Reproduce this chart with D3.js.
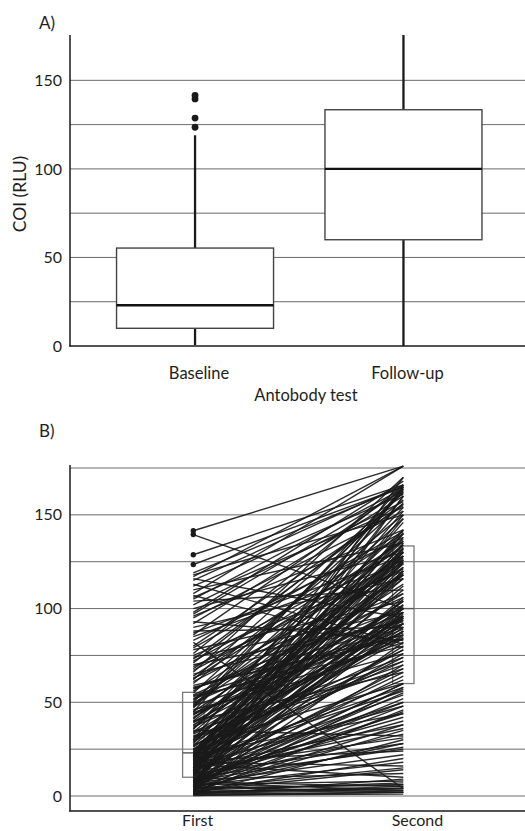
<!DOCTYPE html>
<html>
<head>
<meta charset="utf-8">
<script src="https://cdn.jsdelivr.net/npm/d3@7"></script>
<style>
  html, body { margin: 0; padding: 0; background: #fff; }
  svg { display: block; font-family: Lato, "Open Sans", sans-serif; }
</style>
</head>
<body>
<svg id="chart" width="525" height="831"></svg>
<script>
// ---------- DATA ----------
const groups = ["Baseline", "Follow-up"];
const pairLabels = ["First", "Second"];
const yTickValues = [0, 50, 100, 150];
const gridA = [25, 50, 75, 100, 125, 150];
const gridB = [0, 25, 50, 75, 100, 125, 150, 175];

// box-plot summaries: [min, q1, median, q3, max]
const baselineStats = [0.5, 10, 23, 55.3, 119];
const followupStats = [0, 60, 100, 133.4, 175.6];
const baselineOutliers = [123.5, 128.7, 139.5, 141.5];
const followupOutliers = [];

// paired values (panel B), first and second measurement per subject
const firstValues = [
  0.5, 1, 1, 1.5, 2, 2, 2.5, 3, 3, 3.5,
  4, 4, 4.5, 5, 5, 5.5, 6, 6, 6.5, 7,
  7, 7.5, 8, 8, 8.5, 9, 9, 9.5, 10, 0.8,
  1.2, 1.8, 2.2, 2.8, 3.2, 3.8, 4.2, 4.8, 5.2, 5.8,
  6.2, 6.8, 7.2, 7.8, 8.2, 8.8, 9.2, 9.8, 0.3, 1.4,
  2.6, 3.6, 4.6, 5.6, 6.6, 7.6,
  10.5, 11, 11.5, 12, 12, 12.5, 13, 13, 13.5, 14,
  14, 14.5, 15, 15, 15.5, 16, 16, 16.5, 17, 17,
  17.5, 18, 18, 18.5, 19, 19, 19.5, 20, 20, 20.5,
  21, 21, 21.5, 22, 22, 22.5, 23, 10.8, 11.8, 12.8,
  13.8, 14.8, 15.8, 16.8, 17.8, 18.8, 19.8, 20.8, 21.8, 22.8,
  11.2, 13.2, 15.2, 17.2, 19.2, 21.2, 23,
  23.5, 24, 25, 25, 26, 27, 27.5, 28, 29, 30,
  30, 31, 32, 33, 33.5, 34, 35, 36, 36, 37,
  38, 39, 40, 40, 41, 42, 43, 44, 45, 45,
  46, 47, 48, 49, 50, 50, 51, 52, 53, 54,
  55, 24.5, 26.5, 28.5, 31.5, 34.5, 37.5, 41.5, 44.5, 47.5,
  51.5, 53.5, 29.5, 35.5, 39.5, 43.5, 48.5,
  56, 57, 58, 59, 60, 61, 62, 63, 64, 65,
  66, 67, 68, 70, 71, 72, 74, 75, 76, 78,
  80, 82, 83, 85, 86, 88, 90, 92, 93, 95,
  96, 98, 100, 102, 104, 105, 107, 108, 110, 112,
  113, 115, 116, 117, 118, 119, 57.5, 62.5, 69, 73,
  79, 87, 97, 106, 123.5, 128.7, 139.5, 141.5
];
const secondValues = [
  1, 2, 30, 3, 5, 20, 4, 38, 7, 45,
  6, 70, 28, 2, 95, 18, 130, 8, 55, 50,
  3, 140, 26, 102, 33, 12, 120, 44, 150, 9,
  58, 4, 92, 35, 82, 15, 6, 160, 48, 98,
  57, 22, 125, 60, 105, 40, 64, 25, 2, 46,
  14, 100, 135, 52, 60, 5,
  42, 118, 28, 90, 142, 36, 76, 50, 132, 54,
  160, 96, 31, 124, 38, 112, 88, 48, 100, 62,
  138, 94, 16, 128, 24, 165, 104, 58, 146, 88,
  120, 72, 134, 98, 44, 84, 152, 80, 126, 66,
  106, 170, 92, 10, 78, 74, 116, 164, 86, 130,
  68, 148, 97, 122, 56, 140, 110,
  96, 132, 78, 92, 104, 120, 60, 140, 88, 126,
  165, 68, 72, 85, 100, 128, 32, 136, 116, 84,
  96, 102, 124, 66, 142, 108, 130, 92, 166, 118,
  76, 148, 87, 134, 98, 162, 122, 86, 80, 106,
  156, 118, 95, 131, 70, 74, 127, 113, 82, 163,
  137, 90, 119, 154, 101, 89, 125,
  128, 100, 86, 84, 150, 118, 162, 108, 136, 94,
  170, 126, 140, 93, 158, 132, 98, 120, 166, 104,
  155, 4, 138, 124, 164, 90, 116, 160, 83, 152,
  142, 168, 130, 157, 110, 164, 79, 176, 135, 161,
  81, 166, 95, 176, 150, 165, 92, 133, 121, 156,
  141, 128, 163, 154, 165, 166, 100, 176
];

// ---------- DRAW ----------
const svg = d3.select("#chart");
const W = 525;
const gridColor = "#6a6a6a";
const fontSize = 16.5;
const tickFont = 16;
const textColor = "#1e1e1e";

// ===== Panel A =====
const yA = d3.scaleLinear().domain([0, 175.6]).range([346, 35]);
const xA = d3.scalePoint().domain(groups).range([70, 528.5]).padding(0.6);
const boxW = 157;

const gA = svg.append("g");
gA.append("text").attr("x", 39).attr("y", 29).attr("font-size", 17).attr("fill", textColor).text("A)");

gA.selectAll("line.grid").data(gridA).join("line")
  .attr("x1", 70).attr("x2", W).attr("y1", d => yA(d)).attr("y2", d => yA(d))
  .attr("stroke", gridColor).attr("stroke-width", 1);

const statsA = [
  { g: groups[0], s: baselineStats, o: baselineOutliers },
  { g: groups[1], s: followupStats, o: followupOutliers }
];
statsA.forEach(b => {
  const cx = xA(b.g);
  const [mn, q1, md, q3, mx] = b.s;
  gA.append("line").attr("x1", cx).attr("x2", cx).attr("y1", yA(q3)).attr("y2", yA(mx))
    .attr("stroke", "#1a1a1a").attr("stroke-width", 2.3);
  gA.append("line").attr("x1", cx).attr("x2", cx).attr("y1", yA(q1)).attr("y2", yA(mn))
    .attr("stroke", "#1a1a1a").attr("stroke-width", 2.3);
  gA.append("rect").attr("x", cx - boxW / 2).attr("width", boxW)
    .attr("y", yA(q3)).attr("height", yA(q1) - yA(q3))
    .attr("fill", "#fff").attr("stroke", "#444").attr("stroke-width", 1.4);
  gA.append("line").attr("x1", cx - boxW / 2).attr("x2", cx + boxW / 2)
    .attr("y1", yA(md)).attr("y2", yA(md)).attr("stroke", "#111").attr("stroke-width", 2.4);
  gA.selectAll(null).data(b.o).join("circle")
    .attr("cx", cx).attr("cy", d => yA(d)).attr("r", 3.4).attr("fill", "#1a1a1a");
});

// axes A
const axA = gA.append("g").attr("transform", "translate(70,0)")
  .call(d3.axisLeft(yA).tickValues(yTickValues).tickSize(0).tickPadding(8).tickFormat(d3.format("d")));
axA.select(".domain").remove();
axA.selectAll("text").attr("font-size", tickFont).attr("fill", textColor).attr("font-family", "Lato, sans-serif");
gA.append("line").attr("x1", 70).attr("x2", 70).attr("y1", 35).attr("y2", 346.5).attr("stroke", "#1a1a1a").attr("stroke-width", 1.5);
gA.append("line").attr("x1", 69.3).attr("x2", W).attr("y1", 346).attr("y2", 346).attr("stroke", "#1a1a1a").attr("stroke-width", 1.5);

gA.selectAll("text.xl").data(groups).join("text")
  .attr("x", d => xA(d) + 4).attr("y", 379).attr("text-anchor", "middle")
  .attr("font-size", fontSize).attr("fill", textColor).text(d => d);
gA.append("text").attr("x", 306).attr("y", 401).attr("text-anchor", "middle")
  .attr("font-size", fontSize).attr("fill", textColor).text("Antobody test");
gA.append("text").attr("transform", "translate(26,194) rotate(-90)").attr("text-anchor", "middle")
  .attr("font-size", 17.5).attr("fill", textColor).text("COI (RLU)");

// ===== Panel B =====
const yB = d3.scaleLinear().domain([0, 175]).range([796, 468]);
const xLines = d3.scalePoint().domain(pairLabels).range([193.3, 403.3]);
const xLab = d3.scalePoint().domain(pairLabels).range([70, 545]).padding(0.58);
const gB = svg.append("g");
gB.append("text").attr("x", 39).attr("y", 437).attr("font-size", 17).attr("fill", textColor).text("B)");

gB.selectAll("line.grid").data(gridB).join("line")
  .attr("x1", 70).attr("x2", W).attr("y1", d => yB(d)).attr("y2", d => yB(d))
  .attr("stroke", gridColor).attr("stroke-width", 1);

// small boxes behind the lines
const boxBW = 21.4;
[[pairLabels[0], baselineStats], [pairLabels[1], followupStats]].forEach(([k, s]) => {
  const cx = xLines(k);
  gB.append("rect").attr("x", cx - boxBW / 2).attr("width", boxBW)
    .attr("y", yB(s[3])).attr("height", yB(s[1]) - yB(s[3]))
    .attr("fill", "none").attr("stroke", "#7a7a7a").attr("stroke-width", 1.3);
  gB.append("line").attr("x1", cx - boxBW / 2).attr("x2", cx + boxBW / 2)
    .attr("y1", yB(s[2])).attr("y2", yB(s[2])).attr("stroke", "#555").attr("stroke-width", 1.4);
});

const pairs = firstValues.map((f, i) => [f, secondValues[i]]);
gB.selectAll("line.pair").data(pairs).join("line")
  .attr("x1", xLines(pairLabels[0])).attr("x2", xLines(pairLabels[1]))
  .attr("y1", d => yB(d[0])).attr("y2", d => yB(d[1]))
  .attr("stroke", "#1a1a1a").attr("stroke-width", 1.4).attr("stroke-opacity", 0.92);

gB.selectAll("circle.out").data(baselineOutliers).join("circle")
  .attr("cx", xLines(pairLabels[0])).attr("cy", d => yB(d)).attr("r", 2.7).attr("fill", "#1a1a1a");

const axB = gB.append("g").attr("transform", "translate(70,0)")
  .call(d3.axisLeft(yB).tickValues(yTickValues).tickSize(0).tickPadding(8).tickFormat(d3.format("d")));
axB.select(".domain").remove();
axB.selectAll("text").attr("font-size", tickFont).attr("fill", textColor).attr("font-family", "Lato, sans-serif");
gB.append("line").attr("x1", 70).attr("x2", 70).attr("y1", 465).attr("y2", 811.5).attr("stroke", "#1a1a1a").attr("stroke-width", 1.5);
gB.append("line").attr("x1", 69.3).attr("x2", W).attr("y1", 811).attr("y2", 811).attr("stroke", "#1a1a1a").attr("stroke-width", 1.5);

gB.selectAll("text.xl").data(pairLabels).join("text")
  .attr("x", d => xLab(d)).attr("y", 826).attr("text-anchor", "middle")
  .attr("font-size", 16).attr("fill", textColor).text(d => d);
</script>
</body>
</html>
